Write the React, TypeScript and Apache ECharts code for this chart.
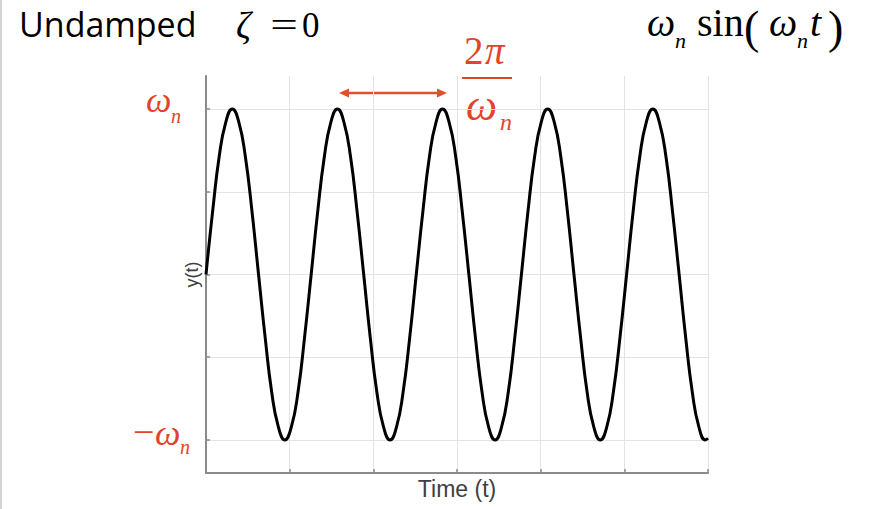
import React, { useEffect, useRef } from "react";
import * as echarts from "echarts";

const timeValues = [
  0, 0.079, 0.157, 0.236, 0.314, 0.393, 0.471, 0.55, 0.628, 0.707, 0.785, 0.864, 0.942,
  1.021, 1.1, 1.178, 1.257, 1.335, 1.414, 1.492, 1.571, 1.649, 1.728, 1.806, 1.885,
  1.963, 2.042, 2.121, 2.199, 2.278, 2.356, 2.435, 2.513, 2.592, 2.67, 2.749, 2.827,
  2.906, 2.985, 3.063, 3.142, 3.22, 3.299, 3.377, 3.456, 3.534, 3.613, 3.691, 3.77,
  3.848, 3.927, 4.006, 4.084, 4.163, 4.241, 4.32, 4.398, 4.477, 4.555, 4.634, 4.712,
  4.791, 4.869, 4.948, 5.027, 5.105, 5.184, 5.262, 5.341, 5.419, 5.498, 5.576, 5.655,
  5.733, 5.812, 5.89, 5.969, 6.0,
];
const responseValues = [
  0, 0.38, 0.71, 0.92, 1, 0.92, 0.71, 0.38, 0, -0.38, -0.71, -0.92, -1, -0.92, -0.71, -0.38,
  0, 0.38, 0.71, 0.92, 1, 0.92, 0.71, 0.38, 0, -0.38, -0.71, -0.92, -1, -0.92, -0.71, -0.38,
  0, 0.38, 0.71, 0.92, 1, 0.92, 0.71, 0.38, 0, -0.38, -0.71, -0.92, -1, -0.92, -0.71, -0.38,
  0, 0.38, 0.71, 0.92, 1, 0.92, 0.71, 0.38, 0, -0.38, -0.71, -0.92, -1, -0.92, -0.71, -0.38,
  0, 0.38, 0.71, 0.92, 1, 0.92, 0.71, 0.38, 0, -0.38, -0.71, -0.92, -1, -0.99,
];
const yGridValues = [-1, -0.5, 0, 0.5, 1];

const titleText = "Undamped";
const xAxisName = "Time (t)";
const yAxisName = "y(t)";

const RED = "#e4432b";
const SERIF = '"Liberation Serif", "Times New Roman", serif';

function txt(text: string, x: number, y: number, size: number, opts: any = {}) {
  return {
    type: "text",
    x,
    y,
    silent: true,
    scaleX: opts.scaleX ?? 1,
    style: {
      text,
      fontFamily: opts.family ?? SERIF,
      fontSize: size,
      fontStyle: opts.italic ? "italic" : "normal",
      fill: opts.color ?? "#000",
      align: opts.align ?? "left",
      verticalAlign: "middle",
    },
  };
}

export default function App() {
  const ref = useRef<HTMLDivElement>(null);

  useEffect(() => {
    if (!ref.current) return;
    const chart = echarts.init(ref.current, undefined, { renderer: "svg" });
    const data = timeValues.map((t, i) => [t, responseValues[i]]);

    const graphic: any[] = [
      { type: "rect", shape: { x: 0, y: 0, width: 2, height: 509 }, style: { fill: "#d3d3d3" }, silent: true },
      txt(titleText, 19, 24, 34, { family: '"Open Sans", "Noto Sans", sans-serif' }),
      // ζ = 0
      txt("ζ", 236, 25, 37, { italic: true }),
      txt("=", 284, 25, 35, { align: "center", scaleX: 1.4 }),
      txt("0", 302, 25, 35),
      // ωn sin(ωn t)
      txt("ω", 647, 22, 40, { italic: true }),
      txt("n", 675, 40, 22, { italic: true }),
      txt("sin", 697, 22, 40),
      txt("(", 744, 27, 46),
      txt("ω", 769, 22, 40, { italic: true }),
      txt("n", 797, 40, 22, { italic: true }),
      txt("t", 810, 22, 40, { italic: true }),
      txt(")", 828, 27, 46),
      // 2π / ωn
      txt("2", 464, 50, 39, { color: RED }),
      txt("π", 485, 50, 39, { color: RED, italic: true }),
      { type: "line", shape: { x1: 462, y1: 78, x2: 512, y2: 78 }, style: { stroke: RED, lineWidth: 2 }, silent: true },
      txt("ω", 466, 105, 44, { color: RED, italic: true }),
      txt("n", 500, 122, 24, { color: RED, italic: true }),
      // ωn (top), −ωn (bottom)
      txt("ω", 146, 100, 36, { color: RED, italic: true }),
      txt("n", 171, 116, 20, { color: RED, italic: true }),
      txt("−", 133, 432, 38, { color: RED }),
      txt("ω", 155, 433, 36, { color: RED, italic: true }),
      txt("n", 180, 447, 20, { color: RED, italic: true }),
      // period arrow
      { type: "line", shape: { x1: 347, y1: 93, x2: 439, y2: 93 }, style: { stroke: "#e0502c", lineWidth: 2.5 }, silent: true },
      { type: "polygon", shape: { points: [[339, 93], [349, 88.5], [349, 97.5]] }, style: { fill: "#e0502c" }, silent: true },
      { type: "polygon", shape: { points: [[447, 93], [437, 88.5], [437, 97.5]] }, style: { fill: "#e0502c" }, silent: true },
    ];

    chart.setOption({
      animation: false,
      backgroundColor: "#ffffff",
      grid: { left: 206, top: 76, width: 502, height: 397, containLabel: false, outerBoundsMode: "none" },
      xAxis: {
        type: "value",
        min: 0,
        max: 6,
        interval: 1,
        name: xAxisName,
        nameLocation: "middle",
        nameGap: 4,
        nameTextStyle: { fontFamily: "Liberation Sans, Arial, sans-serif", fontSize: 23, color: "#404040", verticalAlign: "top" },
        axisLine: { show: true, onZero: false, lineStyle: { color: "#8a8a8a", width: 2 } },
        axisTick: { show: true, inside: true, length: 4, lineStyle: { color: "#8a8a8a", width: 1.5 } },
        axisLabel: { show: false },
        splitLine: { show: true, lineStyle: { color: "#e3e3e3", width: 1 } },
      },
      yAxis: {
        type: "value",
        min: -1.2,
        max: 1.2,
        name: yAxisName,
        nameLocation: "middle",
        nameGap: 5,
        nameTextStyle: { fontFamily: "Liberation Sans, Arial, sans-serif", fontSize: 18, color: "#404040" },
        axisLine: { show: true, onZero: false, lineStyle: { color: "#8a8a8a", width: 2 } },
        axisTick: { show: true, inside: true, length: 4, customValues: yGridValues, lineStyle: { color: "#8a8a8a", width: 1.5 } },
        axisLabel: { show: false, customValues: yGridValues },
        splitLine: { show: true, lineStyle: { color: "#e3e3e3", width: 1 } },
      },
      series: [
        {
          type: "line",
          data,
          smooth: true,
          symbol: "none",
          lineStyle: { color: "#000000", width: 3 },
          z: 5,
        },
      ],
      graphic,
    });

    return () => chart.dispose();
  }, []);

  return <div ref={ref} style={{ position: "fixed", left: 0, top: 0, width: 889, height: 509 }} />;
}
